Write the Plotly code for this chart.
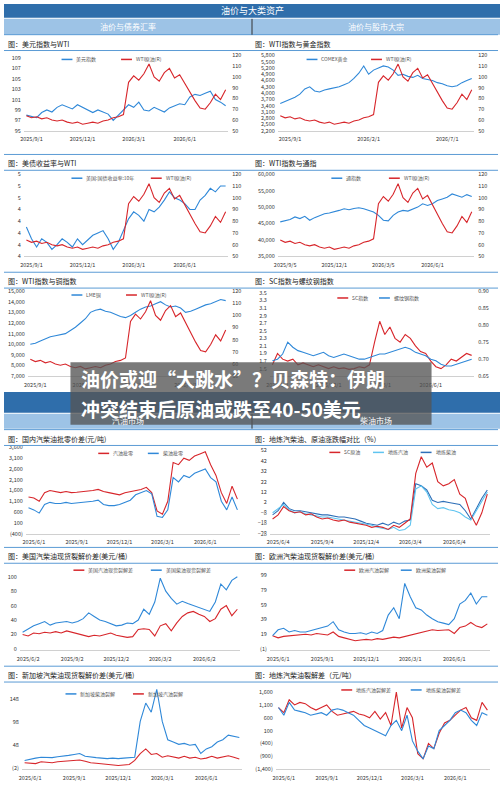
import plotly.graph_objects as go

W, H = 500, 787
FONT = "Noto Sans CJK SC"
RED = "#d7262b"
BLUE = "#2f88d8"
LBLUE = "#5fc4f0"

# ---------------- data ----------------
wti = [64, 62, 63, 61, 62, 60, 59, 60, 58, 57, 58, 56, 57, 58, 57, 59, 60, 62, 63, 65,
       95, 101, 97, 103, 112, 100, 96, 104, 108, 99, 102, 94, 85, 78, 71, 70, 76, 84, 79, 88]
dxy = [98, 97.8, 97.5, 98.5, 99, 98.6, 99.5, 100, 99.6, 99.2, 100, 99.5, 99, 98.5, 99, 98.6, 98.2, 97, 98, 99,
       100, 99.5, 100.5, 99, 98.8, 99.5, 99, 98.6, 99.4, 99.8, 100.2, 100, 101.5, 102, 101.8, 102.2, 102.6, 101, 100.5, 99.8]
gold = [3500, 3600, 3700, 3800, 3950, 4200, 4300, 4100, 4050, 4150, 4200, 4250, 4300, 4400, 4500, 4700, 4950, 5300, 4900, 5100,
        5200, 5300, 5250, 5100, 4850, 4900, 4800, 4750, 4850, 4700, 4650, 4600, 4500, 4450, 4350, 4300, 4350, 4500, 4600, 4700]
ust10 = [4.15, 4.05, 3.98, 4.05, 4.02, 3.96, 4.0, 4.05, 4.02, 3.98, 4.05, 4.0, 4.04, 4.08, 4.1, 4.12, 4.05, 3.96, 4.02, 4.12,
         4.22, 4.28, 4.25, 4.2, 4.3, 4.28, 4.32, 4.38, 4.45, 4.4, 4.38, 4.35, 4.3, 4.3, 4.38, 4.42, 4.48, 4.45, 4.5, 4.5]
tongzhi = [45500, 45800, 46200, 47000, 46500, 47200, 46000, 46800, 47500, 48000, 48200, 48500, 49000, 49500, 49200, 49600, 49800, 49500, 49000, 48500,
           47500, 46000, 45800, 47500, 48500, 49000, 48800, 49500, 50000, 51000, 50500, 51000, 52000, 52500, 53000, 54000, 53500, 53000, 53800, 53200]
copper = [10000, 10100, 10300, 10500, 10700, 10800, 10900, 11000, 11300, 11600, 12000, 12400, 13000, 13200, 13300, 13100, 13000, 12800, 12600, 12500,
          12700, 13000, 13300, 13500, 13600, 13800, 14000, 13700, 13500, 13600, 13400, 13000, 13100, 13300, 13500, 13700, 13800, 14000, 14200, 14100]
sc = [1.6, 1.9, 1.75, 1.7, 1.75, 1.6, 1.65, 1.6, 1.55, 1.6, 1.55, 1.5, 1.55, 1.5, 1.52, 1.48, 1.5, 1.55, 1.52, 1.6,
      2.2, 2.75, 2.4, 2.6, 2.3, 2.2, 2.4, 2.3, 2.1, 1.95, 1.9, 1.7, 1.55, 1.5, 1.6, 1.75, 1.7, 1.8, 1.9, 1.85]
rebar = [0.695, 0.70, 0.715, 0.75, 0.735, 0.725, 0.72, 0.715, 0.71, 0.715, 0.72, 0.71, 0.705, 0.71, 0.715, 0.71, 0.705, 0.70, 0.70, 0.705,
         0.71, 0.715, 0.715, 0.72, 0.725, 0.73, 0.735, 0.73, 0.72, 0.715, 0.71, 0.70, 0.695, 0.685, 0.68, 0.68, 0.685, 0.69, 0.695, 0.70]
gas_spread = [1300, 1250, 1100, 1500, 1600, 1550, 1500, 1550, 1500, 1520, 1550, 1550, 1600, 1650, 1550, 1500, 1450, 1400, 1500, 1550,
              1600, 1650, 1750, 1500, 650, 500, 1100, 2900, 2800, 3100, 3000, 3200, 3300, 3400, 2800, 2300, 1500, 1000, 1800, 1200]
dsl_spread = [800, 700, 550, 950, 1050, 1000, 1000, 1050, 1000, 1020, 1050, 1050, 1100, 1150, 950, 900, 900, 950, 1050, 1150,
              1400, 1500, 1600, 1450, 400, 350, 700, 2200, 2000, 2300, 2200, 2400, 2500, 2600, 2200, 2000, 1100, 700, 1300, 700]
sc_chg = [-14, -10, -2, -6, -8, -7, -10, -9, -12, -14, -13, -15, -16, -15, -17, -18, -19, -20, -22, -21,
          -22, -24, -20, -22, -18, -14, 30, 46, 36, 40, 22, 18, 20, 24, 10, 6, -10, -20, -8, 10]
gas_chg = [-8, -4, 0, -5, -8, -7, -9, -10, -11, -12, -12, -13, -14, -15, -16, -17, -18, -19, -20, -22,
           -23, -24, -22, -25, -24, -20, 15, 18, 12, 0, -4, -3, -5, -6, -8, -12, -15, -6, 2, 12]
dsl_chg = [-10, -6, 2, -4, -6, -6, -7, -8, -9, -10, -10, -11, -12, -12, -13, -14, -16, -18, -19, -20,
           -18, -20, -17, -19, -16, -15, 20, 18, 14, 4, 2, 3, 2, 1, 0, -6, -14, -4, 6, 14]
us_gas = [20, 18, 22, 21, 23, 22, 24, 22, 25, 23, 20, 18, 17, 19, 18, 20, 22, 19, 17, 16,
          17, 27, 28, 27, 18, 32, 35, 25, 36, 45, 50, 52, 48, 45, 38, 42, 55, 60, 46, 55]
us_dsl = [23, 28, 32, 35, 38, 33, 36, 37, 38, 36, 38, 42, 50, 45, 40, 38, 35, 32, 33, 36,
          35, 40, 55, 48, 65, 98, 80, 70, 62, 66, 63, 60, 57, 54, 52, 65, 90, 82, 95, 100]
eu_gas = [17, 14, 16, 17, 18, 18, 19, 18, 20, 19, 18, 22, 16, 14, 12, 10, 11, 12, 11, 13,
          12, 14, 15, 14, 16, 18, 20, 22, 23, 25, 24, 24, 25, 20, 28, 30, 35, 30, 28, 33]
eu_dsl = [17, 25, 27, 22, 24, 22, 22, 24, 25, 28, 30, 36, 25, 22, 20, 20, 21, 19, 22, 20,
          24, 45, 55, 40, 88, 70, 55, 52, 45, 40, 36, 34, 32, 40, 60, 65, 75, 60, 70, 70]
sg_dsl = [15, 18, 20, 22, 22, 21, 23, 24, 26, 28, 30, 24, 22, 21, 20, 19, 20, 19, 20, 21,
          22, 100, 140, 120, 170, 100, 60, 55, 50, 52, 48, 50, 30, 40, 45, 55, 60, 70, 68, 65]
sg_gas = [10, 9, 8, 12, 11, 10, 12, 13, 14, 15, 16, 13, 10, 9, 8, 7, 5, 4, 5, 6,
          15, 30, 40, 28, 30, 22, 25, 22, 20, 24, 20, 22, 18, 20, 24, 20, 22, 25, 22, 18]
dl_gas = [1000, 800, 1300, 1100, 1200, 1150, 1000, 900, 1000, 1100, 850, 700, 750, 800, 850, 750, 700, 600, 850, 550,
          800, 300, 1600, 200, 1000, 600, -800, -1000, -400, -600, 0, 400, 500, 700, 900, 1000, 600, 500, 1200, 900]
dl_dsl = [1000, 700, 1200, 900, 850, 800, 700, 750, 800, 700, 900, 950, 900, 800, 700, 500, 300, 200, 100, 0,
          -100, 300, 500, 100, 700, -300, -700, -1000, -500, -600, 100, 300, 500, 800, 900, 800, 500, 300, 800, 700]

dates_a = ["2025/9/1", "2025/12/1", "2026/3/1", "2026/6/1"]
dates_b = ["2025/9/1", "2026/2/1", "2026/7/1"]
dates_c = ["2025/9/5", "2025/12/1", "2026/3/5", "2026/6/1"]
dates_d = ["2025/6/1", "2025/9/1", "2025/12/1", "2026/3/1", "2026/6/1"]
dates_e = ["2025/6/4", "2025/9/4", "2025/12/4", "2026/3/4", "2026/6/4"]
dates_f = ["2025/6/2", "2025/9/2", "2025/12/2", "2026/3/2", "2026/6/2"]


def fx(px):
    return px / W


def fy(px):
    return 1 - px / H


fig = go.Figure()
shapes, annos = [], []
layout = {}
tick_font = dict(family=FONT, size=5.5, color="#333")
n_ax = [0]


def text(t, xpx, ypx, size, color, xanchor="center"):
    annos.append(dict(x=fx(xpx), y=fy(ypx), xref="paper", yref="paper", text=t, showarrow=False,
                      xanchor=xanchor, yanchor="middle", font=dict(family=FONT, size=size, color=color)))


def panel(box, xticks, xpos, left, right=None):
    n_ax[0] += 1
    i = n_ax[0]
    x0, x1, y0, y1 = box
    xa = "xaxis" if i == 1 else f"xaxis{i}"
    ya = "yaxis" if i == 1 else f"yaxis{i}"
    xr, yr = xa.replace("axis", ""), ya.replace("axis", "")
    layout[xa] = dict(domain=[fx(x0), fx(x1)], anchor=yr, range=[-0.5, 39.5], tickvals=xpos, ticktext=xticks,
                      tickfont=tick_font, showgrid=False, zeroline=False, showline=True, linecolor="#d0d0d0",
                      ticks="", ticklabelstandoff=3)
    layout[ya] = dict(domain=[fy(y1), fy(y0)], anchor=xr, range=left["range"], tickvals=left["tickvals"],
                      ticktext=left.get("ticktext"), tickformat=",", tickfont=tick_font, showgrid=False,
                      zeroline=False, ticklabelstandoff=2)
    for y, c, name in left["series"]:
        fig.add_trace(go.Scatter(x=list(range(len(y))), y=y, mode="lines", line=dict(color=c, width=1.1),
                                 xaxis=xr, yaxis=yr, showlegend=False, name=name))
    if right:
        n_ax[0] += 1
        j = n_ax[0]
        layout[f"yaxis{j}"] = dict(domain=[fy(y1), fy(y0)], anchor=xr, overlaying=yr, side="right",
                                   range=right["range"], tickvals=right["tickvals"], ticktext=right.get("ticktext"),
                                   tickfont=tick_font, showgrid=False, zeroline=False, ticklabelstandoff=3)
        for y, c, name in right["series"]:
            fig.add_trace(go.Scatter(x=list(range(len(y))), y=y, mode="lines", line=dict(color=c, width=1.1),
                                     xaxis=xr, yaxis=f"y{j}", showlegend=False, name=name))


def legend(items, ypx):
    for xpx, c, name in items:
        shapes.append(dict(type="line", xref="paper", yref="paper", x0=fx(xpx), x1=fx(xpx + 11),
                           y0=fy(ypx), y1=fy(ypx), line=dict(color=c, width=1.5)))
        text(name, xpx + 13, ypx, 5, "#555", "left")


def title(t, xpx, ypx):
    text(t, xpx, ypx, 7, "#222", "left")
    for dy in (7, -9):
        shapes.append(dict(type="line", xref="paper", yref="paper", x0=fx(xpx - 2), x1=fx(xpx + 247),
                           y0=fy(ypx + dy), y1=fy(ypx + dy), line=dict(color="#5b9bd5", width=1)))


pa = [1, 11, 21, 31]
pd5 = [1, 9, 17, 25, 33]
wti_ax = dict(series=[(wti, RED, "WTI原油(R)")], range=[50, 120], tickvals=list(range(50, 121, 10)))

# row 1
title("图：美元指数与WTI", 2, 40)
panel((20, 226, 52, 128), dates_a, pa,
      dict(series=[(dxy, BLUE, "美元指数")], range=[95, 109.5], tickvals=list(range(95, 110, 2))), wti_ax)
legend([(58, BLUE, "美元指数"), (118, RED, "WTI原油(R)")], 56)
title("图：WTI指数与黄金指数", 251, 40)
panel((276, 474, 52, 128), dates_b, [2, 18, 34],
      dict(series=[(gold, BLUE, "COMEX黄金")], range=[2200, 5800], tickvals=list(range(2200, 5801, 300))), wti_ax)
legend([(305, BLUE, "COMEX黄金"), (370, RED, "WTI原油(R)")], 56)

# row 2
title("图：美债收益率与WTI", 2, 161)
panel((20, 226, 172, 255), dates_a, pa,
      dict(series=[(ust10, BLUE, "美国:国债收益率:10年")], range=[3.9, 4.6],
           tickvals=[3.9, 4.0, 4.1, 4.2, 4.3, 4.4, 4.5, 4.6], ticktext=["4", "4", "4", "4", "4", "5", "5", "5"]), wti_ax)
legend([(68, BLUE, "美国:国债收益率:10年"), (148, RED, "WTI原油(R)")], 176)
title("图：WTI指数与通指", 251, 161)
panel((276, 474, 172, 255), dates_c, pa,
      dict(series=[(tongzhi, BLUE, "通指数")], range=[35000, 60000], tickvals=list(range(35000, 60001, 5000))), wti_ax)
legend([(330, BLUE, "通指数"), (388, RED, "WTI原油(R)")], 176)

# row 3
title("图：WTI指数与铜指数", 2, 280)
panel((24, 226, 290, 376), dates_a, pa,
      dict(series=[(copper, BLUE, "LME铜")], range=[7000, 15000], tickvals=list(range(7000, 15001, 1000))), wti_ax)
legend([(68, BLUE, "LME铜"), (123, RED, "WTI原油(R)")], 294)
title("图：SC指数与螺纹钢指数", 251, 280)
panel((268, 474, 290, 376), dates_a, pa,
      dict(series=[(sc, RED, "SC指数")], range=[1.3, 3.55], tickvals=[1.5, 1.7, 1.9, 2.1, 2.3, 2.5, 2.7, 2.9, 3.1, 3.3, 3.5],
           ticktext=["1.5", "1.7", "1.9", "2.1", "2.3", "2.5", "2.7", "2.9", "3.1", "3.3", "3.5"]),
      dict(series=[(rebar, BLUE, "螺纹钢指数")], range=[0.65, 0.90], tickvals=[0.65, 0.70, 0.75, 0.80, 0.85, 0.90],
           ticktext=["0.65", "0.70", "0.75", "0.80", "0.85", "0.90"]))
legend([(336, RED, "SC指数"), (378, BLUE, "螺纹钢指数")], 297)

# row 4
title("图：国内汽柴油批零价差(元/吨)", 2, 439)
panel((22, 238, 448, 535), dates_d, pd5,
      dict(series=[(gas_spread, RED, "汽油批零"), (dsl_spread, BLUE, "柴油批零")], range=[-400, 3600],
           tickvals=list(range(-400, 3601, 500)),
           ticktext=["(400)", "100", "600", "1,100", "1,600", "2,100", "2,600", "3,100", "3,600"]))
legend([(95, RED, "汽油批零"), (145, BLUE, "柴油批零")], 454)
title("图：地炼汽柴油、原油涨跌幅对比（%）", 251, 439)
panel((268, 490, 448, 535), dates_e, pd5,
      dict(series=[(dsl_chg, "#2e6fb8", "地炼柴油"), (gas_chg, LBLUE, "地炼汽油"), (sc_chg, RED, "SC原油")],
           range=[-28, 55], tickvals=list(range(-28, 53, 10))))
legend([(328, RED, "SC原油"), (372, LBLUE, "地炼汽油"), (420, "#2e6fb8", "地炼柴油")], 453)

# row 5
title("图：美国汽柴油现货裂解价差(美元/桶)", 2, 558)
panel((16, 238, 575, 653), dates_f, pd5,
      dict(series=[(us_gas, RED, "美国汽油现货裂解差"), (us_dsl, BLUE, "美国柴油现货裂解差")], range=[-2, 105],
           tickvals=list(range(0, 101, 20))))
legend([(70, RED, "美国汽油现货裂解差"), (148, BLUE, "美国柴油现货裂解差")], 572)
title("图：欧洲汽柴油现货裂解价差(美元/桶)", 251, 558)
panel((268, 490, 575, 653), dates_d, pd5,
      dict(series=[(eu_gas, RED, "欧洲汽油裂解"), (eu_dsl, BLUE, "欧洲柴油裂解")], range=[-3, 102],
           tickvals=[-1, 19, 39, 59, 79, 99], ticktext=["(1)", "19", "39", "59", "79", "99"]))
legend([(343, RED, "欧洲汽油裂解"), (400, BLUE, "欧洲柴油裂解")], 572)

# row 6
title("图：新加坡汽柴油现货裂解价差(美元/桶)", 2, 678)
panel((18, 240, 690, 773), dates_d, pd5,
      dict(series=[(sg_gas, RED, "新加坡汽油裂解"), (sg_dsl, BLUE, "新加坡柴油裂解")], range=[-4, 175],
           tickvals=[-2, 48, 98, 148], ticktext=["(2)", "48", "98", "148"]))
legend([(62, BLUE, "新加坡柴油裂解"), (130, RED, "新加坡汽油裂解")], 697)
title("图：地炼汽柴油裂解差（元/吨）", 251, 678)
panel((274, 490, 690, 773), dates_d, pd5,
      dict(series=[(dl_gas, RED, "地炼汽油裂解差"), (dl_dsl, BLUE, "地炼柴油裂解差")], range=[-1400, 1800],
           tickvals=list(range(-1400, 1601, 500)),
           ticktext=["(1,400)", "(900)", "(400)", "100", "600", "1,100", "1,600"]))
legend([(340, RED, "地炼汽油裂解差"), (410, BLUE, "地炼柴油裂解差")], 693)


# ---------------- section headers ----------------
def band(y0, y1, color):
    shapes.append(dict(type="rect", xref="paper", yref="paper", x0=0, x1=1, y0=fy(y1), y1=fy(y0),
                       fillcolor=color, line=dict(width=0), layer="below"))


band(0, 14, "#2f6eab")
band(15, 31, "#9dc3e6")
text("油价与大类资产", 250, 7, 9, "white")
text("油价与债券汇率", 125, 23, 8, "white")
text("油价与股市大宗", 375, 23, 8, "white")
band(392, 413, "#2f6eab")
band(414, 429, "#9dc3e6")
text("汽油市场", 125, 421, 8, "white")
text("柴油市场", 375, 421, 8, "white")
for a, b in [(15, 31), (414, 429)]:
    shapes.append(dict(type="line", xref="paper", yref="paper", x0=0.5, x1=0.5, y0=fy(b), y1=fy(a),
                       line=dict(color="#333", width=1)))

# headline overlay
shapes.append(dict(type="rect", xref="paper", yref="paper", x0=fx(67), x1=fx(431), y0=fy(425), y1=fy(362),
                   fillcolor="rgba(85,85,85,0.78)", line=dict(width=0)))
text("<b>油价或迎“大跳水”？贝森特：伊朗</b>", 76, 378, 19, "white", "left")
text("<b>冲突结束后原油或跌至40-50美元</b>", 76, 409, 19, "white", "left")

fig.update_layout(width=W, height=H, margin=dict(l=0, r=0, t=0, b=0), plot_bgcolor="white",
                  paper_bgcolor="white", showlegend=False, shapes=shapes, annotations=annos, **layout)
fig.write_html("out.html", config={"displayModeBar": False},
               post_script="document.body.style.margin='0';")
